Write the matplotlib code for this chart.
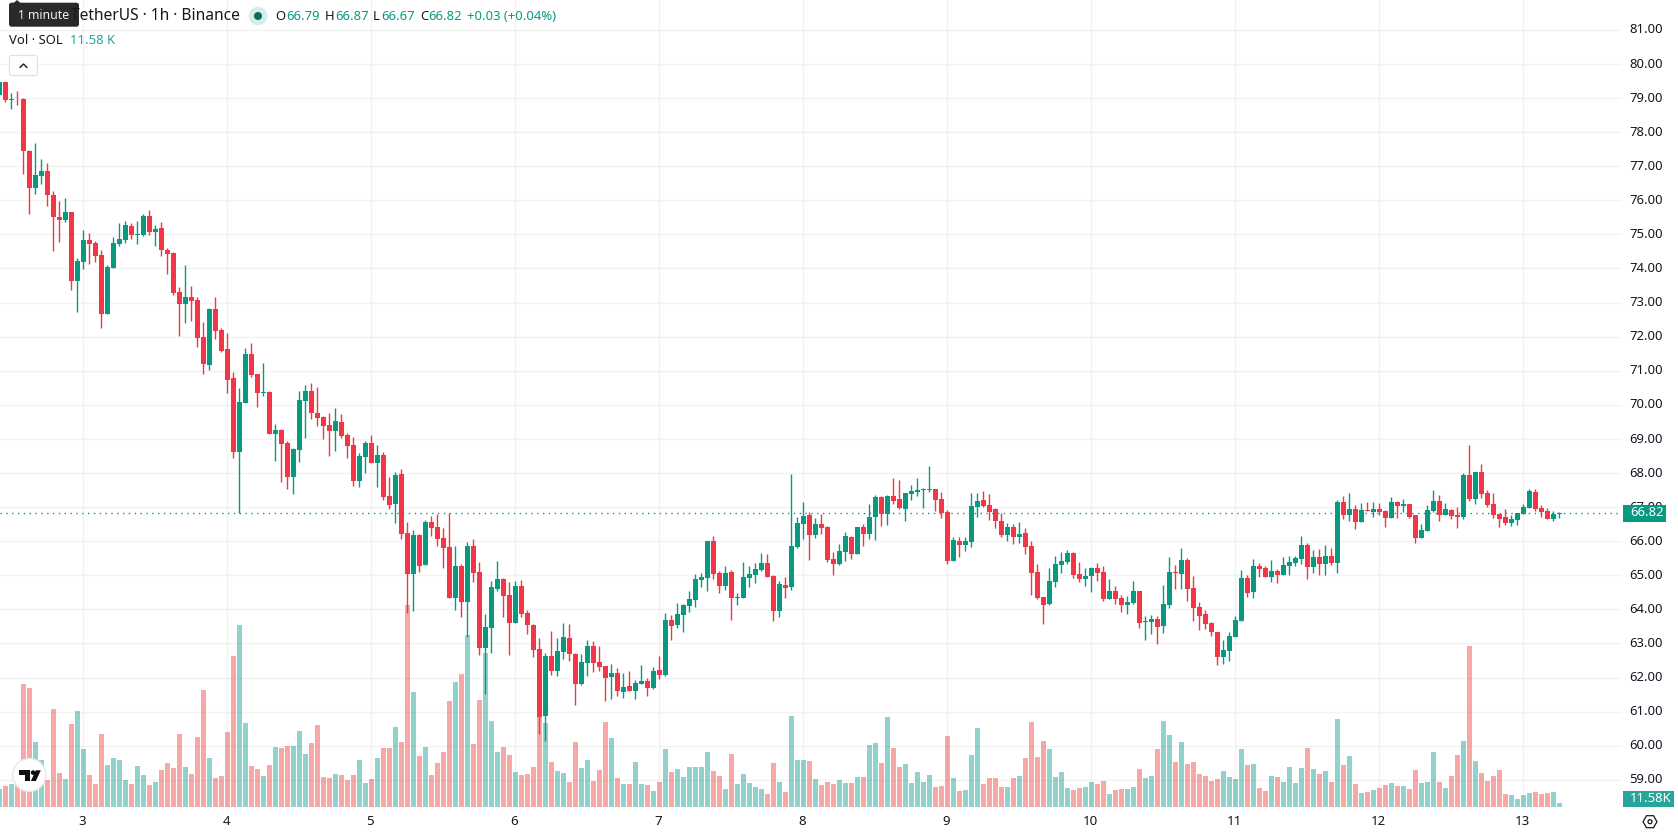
import numpy as np
import matplotlib
matplotlib.use('Agg')
import matplotlib.pyplot as plt
from matplotlib.patches import Rectangle, FancyBboxPatch, Circle, Polygon
from matplotlib.transforms import ScaledTranslation

plt.rcParams['font.family'] = ['Noto Sans', 'DejaVu Sans']

# hourly SOL/USDT candles, first one is 14 hours before the day "3" tick
first_hour = -14
opens = [79.10, 79.46, 78.93, 78.98, 78.96, 77.46, 76.36, 76.71, 76.85, 76.17, 75.52, 75.41, 75.65, 73.64,
         74.20, 74.83, 74.74, 74.39, 72.67, 74.02, 74.73, 74.84, 75.24, 74.98, 74.98, 75.54, 75.07, 75.19,
         74.54, 74.45, 73.31, 72.96, 73.16, 73.07, 71.99, 71.17, 72.81, 72.19,
         71.63, 70.78, 68.61, 70.05, 71.48, 70.90, 70.34, 70.37, 69.14, 69.26, 68.88, 67.88, 68.67, 70.11,
         70.40, 69.76, 69.64, 69.40, 69.23, 69.49, 69.11, 68.82, 67.77, 68.47,
         68.88, 68.29, 68.53, 67.33, 67.09, 67.97, 66.25, 65.05, 66.19, 65.31, 66.57, 66.42, 66.10, 65.84,
         64.32, 65.28, 64.23, 65.87, 65.11, 62.88, 63.44, 64.61, 64.90, 64.43, 63.61, 64.70, 63.88, 63.53,
         62.85, 60.87, 62.63, 62.19, 62.75, 63.16, 62.69, 61.81, 62.42, 62.92, 62.45, 62.34, 62.01, 62.13,
         61.58, 61.75, 61.60, 61.81, 61.90, 61.69,
         62.22, 62.07, 63.69, 63.54, 63.83, 64.10, 64.27, 64.86, 64.92, 66.00, 65.06, 64.68, 65.09, 64.33,
         64.33, 64.92, 65.00, 65.15, 65.36, 64.98, 63.95, 64.71, 64.65, 65.82,
         66.50, 66.76, 66.18, 66.50, 66.41, 65.47, 65.33, 65.68, 66.12, 65.62, 66.41, 66.20, 66.70, 67.29,
         66.79, 67.32, 67.23, 66.94, 67.38, 67.43, 67.49, 67.49, 67.52, 67.23,
         66.85, 65.41, 66.02, 65.90, 65.99, 67.01, 67.22, 67.07, 66.93, 66.60, 66.17, 66.43, 66.11, 66.25,
         65.87, 65.11, 64.35, 64.15, 64.79, 65.29, 65.40, 65.64, 65.05, 64.88,
         64.97, 65.20, 65.11, 64.29, 64.53, 64.32, 64.12, 64.20, 64.53, 63.62, 63.62, 63.71, 63.50, 64.12,
         65.11, 65.05, 65.46, 64.64, 64.06, 63.85, 63.59, 63.33, 62.60, 62.77,
         63.18, 63.65, 64.92, 64.51, 65.27, 65.22, 64.95, 65.13, 65.01, 65.27, 65.36, 65.48, 65.89, 65.25,
         65.54, 65.33, 65.57, 65.36, 67.16, 66.77, 66.95, 66.57, 66.92, 66.86,
         66.95, 66.89, 66.69, 67.16, 67.04, 67.10, 66.77, 66.10, 66.30, 66.89, 67.19, 66.77, 66.92, 66.77,
         66.72, 67.95, 67.25, 68.04, 67.42, 67.10, 66.80, 66.72, 66.54, 66.63,
         66.80, 66.98, 67.45, 66.98, 66.89, 66.66, 66.79]
highs = [79.46, 79.48, 79.16, 79.22, 79.01, 77.49, 77.67, 77.20, 77.08, 76.28, 75.97, 76.08, 75.67, 74.30,
         75.13, 75.04, 74.80, 74.54, 74.10, 74.92, 75.33, 75.39, 75.33, 75.39, 75.60, 75.71, 75.27, 75.36,
         74.60, 74.48, 73.46, 74.10, 73.48, 73.16, 72.43, 72.84, 73.16, 72.25,
         72.10, 70.96, 70.49, 71.66, 71.80, 70.90, 71.22, 70.40, 69.43, 69.29, 68.94, 68.73, 70.40, 70.58,
         70.64, 70.52, 69.67, 69.76, 69.90, 69.73, 69.17, 69.05, 68.59, 68.94,
         69.11, 68.82, 68.61, 67.88, 68.03, 68.12, 66.57, 66.34, 66.22, 66.63, 66.75, 66.80, 66.40, 66.82,
         65.87, 65.34, 65.99, 66.07, 65.40, 63.85, 64.84, 65.43, 64.93, 64.81, 64.84, 64.87, 63.97, 63.56,
         63.15, 62.72, 63.36, 63.16, 63.60, 63.57, 62.72, 62.69, 63.10, 63.07, 62.92, 62.34, 62.39, 62.28,
         62.13, 62.19, 61.93, 62.37, 61.99, 62.31,
         62.63, 63.88, 63.83, 64.19, 64.16, 64.54, 65.03, 65.06, 66.00, 66.15, 65.12, 65.27, 65.15, 64.48,
         65.39, 65.27, 65.36, 65.65, 65.62, 65.00, 64.83, 64.95, 67.96, 66.70,
         67.14, 66.85, 66.67, 66.79, 66.44, 65.68, 65.91, 66.26, 66.15, 66.41, 66.50, 67.08, 67.35, 67.32,
         67.35, 67.84, 67.79, 67.40, 67.64, 67.84, 67.55, 68.20, 67.52, 67.43,
         66.91, 66.12, 66.11, 66.11, 67.42, 67.40, 67.48, 67.37, 66.96, 66.84, 66.52, 66.49, 66.55, 66.40,
         66.02, 65.32, 64.35, 65.20, 65.58, 65.67, 65.73, 65.67, 65.38, 65.20,
         65.23, 65.35, 65.26, 64.88, 64.68, 64.41, 64.38, 64.82, 64.53, 63.80, 63.83, 63.80, 64.71, 65.55,
         65.29, 65.79, 65.52, 64.99, 64.23, 63.97, 63.62, 63.33, 63.09, 63.33,
         63.80, 65.16, 65.01, 65.48, 65.36, 65.27, 65.45, 65.19, 65.54, 65.57, 65.57, 66.16, 65.95, 65.75,
         65.77, 65.89, 65.80, 67.22, 67.33, 67.42, 67.07, 67.13, 67.16, 67.16,
         67.13, 66.92, 67.30, 67.19, 67.25, 67.10, 66.77, 66.51, 67.07, 67.51, 67.36, 67.13, 66.95, 67.01,
         68.01, 68.83, 68.04, 68.25, 67.51, 67.42, 66.80, 66.95, 66.77, 66.83,
         67.10, 67.54, 67.54, 67.07, 66.98, 66.89, 66.87]
lows = [79.05, 78.88, 78.67, 78.81, 76.76, 75.59, 76.18, 76.49, 75.83, 74.50, 74.77, 75.36, 73.38, 72.73,
        73.99, 74.14, 74.20, 72.26, 72.67, 74.02, 74.67, 74.75, 74.87, 74.73, 74.95, 74.98, 74.66, 74.36,
        73.84, 73.23, 72.02, 72.40, 72.46, 71.69, 70.90, 71.02, 71.93, 71.55,
        70.34, 68.44, 66.82, 70.05, 70.81, 69.93, 70.25, 69.14, 68.35, 67.74, 67.53, 67.39, 68.32, 69.02,
        69.58, 69.38, 69.00, 68.50, 68.64, 69.02, 68.44, 67.62, 67.59, 68.00,
        68.29, 67.59, 67.21, 66.95, 66.54, 66.07, 63.88, 63.94, 65.11, 65.31, 66.16, 65.87, 65.22, 64.32,
        63.97, 63.79, 63.20, 64.81, 62.65, 61.51, 62.71, 64.55, 63.79, 62.65, 63.61, 63.79, 63.29, 62.59,
        60.35, 60.14, 62.07, 62.04, 62.54, 62.48, 61.20, 61.78, 62.04, 62.16, 62.19, 61.31, 61.37, 61.46,
        61.40, 61.60, 61.37, 61.81, 61.46, 61.66,
        61.96, 62.04, 63.10, 63.45, 63.34, 63.92, 64.07, 64.65, 64.54, 64.89, 64.48, 64.57, 63.68, 64.13,
        64.33, 64.65, 64.77, 65.12, 64.95, 63.66, 63.78, 64.33, 64.57, 65.80,
        66.06, 65.44, 66.09, 66.20, 65.39, 65.00, 65.30, 65.41, 65.47, 65.62, 65.85, 66.06, 66.03, 66.44,
        66.47, 67.08, 66.94, 66.59, 67.20, 67.32, 66.97, 67.43, 66.88, 66.67,
        65.33, 65.41, 65.55, 65.70, 65.84, 66.72, 66.99, 66.63, 66.40, 66.11, 66.02, 65.93, 65.96, 65.61,
        64.41, 64.29, 63.56, 64.12, 64.67, 65.08, 65.32, 64.91, 64.79, 64.70,
        64.50, 64.82, 64.26, 64.29, 64.15, 63.93, 63.85, 64.15, 63.44, 63.09, 63.29, 62.98, 63.32, 64.03,
        64.61, 64.59, 64.26, 63.65, 63.39, 63.41, 63.21, 62.36, 62.39, 62.48,
        63.18, 63.65, 64.36, 64.33, 64.95, 64.95, 64.80, 64.77, 65.01, 65.01, 65.27, 65.33, 64.89, 65.07,
        65.01, 65.01, 65.30, 65.07, 66.66, 66.60, 66.36, 66.57, 66.89, 66.72,
        66.77, 66.42, 66.69, 66.69, 66.86, 66.69, 65.95, 66.10, 66.30, 66.86, 66.60, 66.77, 66.66, 66.39,
        66.66, 67.19, 67.10, 67.27, 67.01, 66.69, 66.42, 66.48, 66.45, 66.48,
        66.80, 66.98, 66.89, 66.72, 66.66, 66.60, 66.67]
closes = [79.46, 78.93, 78.98, 78.96, 77.44, 76.36, 76.73, 76.85, 76.15, 75.50, 75.41, 75.67, 73.64, 74.22,
          74.83, 74.72, 74.37, 72.67, 74.04, 74.74, 74.86, 75.27, 74.99, 75.00, 75.54, 75.07, 75.17, 74.54,
          74.42, 73.27, 72.96, 73.16, 73.04, 71.96, 71.20, 72.81, 72.16, 71.58,
          70.72, 68.61, 70.08, 71.48, 70.87, 70.34, 70.37, 69.14, 69.26, 68.85, 67.88, 68.70, 70.14, 70.40,
          69.76, 69.61, 69.38, 69.23, 69.52, 69.08, 68.79, 67.77, 68.50, 68.88,
          68.29, 68.53, 67.30, 67.06, 67.94, 66.21, 65.05, 66.19, 65.28, 66.57, 66.40, 66.07, 65.81, 64.32,
          65.28, 64.23, 65.87, 65.08, 62.88, 63.47, 64.67, 64.90, 64.40, 63.61, 64.70, 63.85, 63.53, 62.82,
          60.84, 62.63, 62.19, 62.78, 63.19, 62.69, 61.81, 62.45, 62.92, 62.42, 62.31, 61.99, 62.13, 61.60,
          61.72, 61.60, 61.84, 61.90, 61.69, 62.19,
          62.07, 63.69, 63.51, 63.86, 64.13, 64.30, 64.89, 64.95, 66.00, 65.03, 64.68, 65.06, 64.33, 64.36,
          64.95, 65.03, 65.18, 65.36, 64.95, 63.95, 64.74, 64.62, 65.85, 66.53,
          66.73, 66.18, 66.50, 66.38, 65.44, 65.33, 65.71, 66.15, 65.62, 66.41, 66.20, 66.70, 67.29, 66.79,
          67.32, 67.17, 66.97, 67.40, 67.46, 67.49, 67.52, 67.52, 67.20, 66.82,
          65.41, 66.03, 65.90, 66.02, 67.04, 67.19, 67.04, 66.87, 66.58, 66.17, 66.43, 66.11, 66.22, 65.84,
          65.08, 64.32, 64.12, 64.82, 65.32, 65.43, 65.64, 65.02, 64.88, 64.97,
          65.20, 65.08, 64.29, 64.53, 64.29, 64.12, 64.23, 64.53, 63.59, 63.65, 63.71, 63.48, 64.15, 65.11,
          65.08, 65.46, 64.61, 64.03, 63.82, 63.56, 63.33, 62.60, 62.80, 63.21,
          63.68, 64.91, 64.49, 65.27, 65.19, 64.95, 65.13, 65.01, 65.30, 65.39, 65.51, 65.89, 65.25, 65.54,
          65.33, 65.57, 65.36, 67.16, 66.77, 66.95, 66.57, 66.92, 66.89, 66.95,
          66.86, 66.69, 67.16, 67.04, 67.10, 66.72, 66.10, 66.33, 66.92, 67.19, 66.77, 66.95, 66.75, 66.72,
          67.95, 67.25, 68.04, 67.39, 67.07, 66.77, 66.66, 66.54, 66.66, 66.83,
          67.01, 67.48, 66.95, 66.86, 66.66, 66.81, 66.82]
# volume in thousands of SOL
volumes = [55.8, 65.3, 71.6, 68.4, 387.4, 374.8, 204.2, 147.4, 84.2, 308.4, 106.3, 87.4, 261.1, 302.1,
           182.1, 100, 71.6, 229.5, 131.6, 153.7, 147.4, 84.2, 71.6, 128.4, 100, 68.4, 77.9, 115.8,
           137.9, 122.1, 229.5, 125.3, 103.2, 220, 368.4, 153.7, 90.5, 96.8,
           235.8, 475.8, 573.7, 264.2, 128.4, 119, 96.8, 131.6, 188.4, 185.3, 191.6, 191.6, 239, 166.3,
           201.1, 257.9, 93.7, 90.5, 103.2, 100, 84.2, 100, 147.4, 74.7,
           87.4, 153.7, 185.3, 185.3, 251.6, 204.2, 636.9, 362.1, 160, 188.4, 100, 137.9, 172.6, 333.7,
           393.7, 419, 542.1, 197.9, 336.9, 485.3, 270.5, 172.6, 188.4, 163.2, 109.5, 100, 103.2, 125.3,
           286.3, 264.2, 141.1, 112.6, 106.3, 77.9, 204.2, 122.1, 147.4, 81.1, 115.8, 267.4, 216.9, 90.5,
           71.6, 71.6, 141.1, 71.6, 68.4, 49.5,
           77.9, 182.1, 109.5, 119, 93.7, 125.3, 125.3, 125.3, 172.6, 112.6, 96.8, 55.8, 166.3, 71.6,
           103.2, 74.7, 62.1, 55.8, 40, 137.9, 77.9, 46.3, 286.3, 147.4,
           147.4, 144.2, 87.4, 68.4, 77.9, 71.6, 84.2, 75.8, 75.8, 94.7, 94.7, 195.8, 202.1, 139,
           284.2, 186.3, 126.3, 135.8, 75.8, 110.5, 79, 101.1, 63.2, 66.3,
           224.2, 91.6, 50.5, 53.7, 164.2, 249.5, 72.6, 91.6, 91.6, 63.2, 63.2, 91.6, 97.9, 154.7,
           268.4, 157.9, 208.4, 183.2, 94.7, 110.5, 60, 53.7, 60, 63.2,
           79, 72.6, 82.1, 41.1, 53.7, 56.8, 56.8, 63.2, 120, 91.6, 97.9, 183.2, 271.6, 227.4,
           142.1, 205.3, 135.8, 142.1, 104.2, 97.9, 82.1, 88.4, 113.7, 94.7,
           88.4, 183.2, 132.6, 135.8, 59, 49.5, 96.8, 93.7, 77.9, 125.3, 74.7, 122.1, 185.3, 119,
           103.2, 112.6, 77.9, 276.9, 131.6, 160, 71.6, 43.2, 46.3, 52.6,
           59, 68.4, 74.7, 65.3, 65.3, 55.8, 115.8, 74.7, 77.9, 172.6, 77.9, 59, 96.8, 163.2,
           207.4, 507.4, 144.2, 106.3, 81.1, 96.8, 115.8, 40, 36.8, 24.2,
           36.8, 43.2, 46.3, 40, 43.2, 46.3, 11.58]

price_ticks = np.arange(59, 82)
day_labels = [3, 4, 5, 6, 7, 8, 9, 10, 11, 12, 13]
bold_day = 8
last_price = closes[-1]

UP = '#089981'
DOWN = '#F23645'
VOL_UP = '#26A69A'
VOL_DOWN = '#EF5350'
TEXT = '#131722'

W, H = 1678, 835
PANE_W, PANE_H = 1622, 808
HOUR_PX = 6.0
HOUR0_X = 83.3
UNIT_PX = 34.09
P76_Y = 200.3
VOL_BASE_Y = 806.7
VOL_K_PX = 0.3167

hours = first_hour + np.arange(len(closes))
o = np.array(opens)
c = np.array(closes)
rising = c >= o

fig = plt.figure(figsize=(W / 100, H / 100), dpi=100, facecolor='white')
rect = [0, 1 - PANE_H / H, PANE_W / W, PANE_H / H]

# volume sits on its own scale behind the candles
axv = fig.add_axes(rect)
axv.set_xlim(-HOUR0_X / HOUR_PX, (PANE_W - HOUR0_X) / HOUR_PX)
axv.set_ylim(-(PANE_H - VOL_BASE_Y) / VOL_K_PX, VOL_BASE_Y / VOL_K_PX)
axv.axis('off')
axv.bar(hours, volumes, width=0.82, linewidth=0,
        color=[VOL_UP if r else VOL_DOWN for r in rising], alpha=0.5, zorder=2)

ax = fig.add_axes(rect)
ax.patch.set_visible(False)
ax.set_xlim(axv.get_xlim())
ax.set_ylim(76 - (PANE_H - P76_Y) / UNIT_PX, 76 + P76_Y / UNIT_PX)
for s in ax.spines.values():
    s.set_visible(False)

ax.yaxis.tick_right()
ax.set_yticks(price_ticks)
ax.set_yticklabels(['%.2f' % p for p in price_ticks])
ax.set_xticks([(d - day_labels[0]) * 24 for d in day_labels])
ax.set_xticklabels([str(d) for d in day_labels])
ax.tick_params(axis='y', length=0, pad=5.2, labelsize=9.4, labelcolor=TEXT)
ax.tick_params(axis='x', length=0, pad=5.3, labelsize=9.6, labelcolor=TEXT)
for lab, d in zip(ax.get_xticklabels(), day_labels):
    lab.set_transform(lab.get_transform() + ScaledTranslation(-0.6 / 72, 0, fig.dpi_scale_trans))
    if d == bold_day:
        lab.set_fontweight('bold')
# nudge the price labels up so they sit centred on their grid lines
for lab in ax.get_yticklabels():
    lab.set_transform(lab.get_transform() + ScaledTranslation(0, 1.0 / 72, fig.dpi_scale_trans))
ax.grid(True, color='#2E2E2E', alpha=0.055, linewidth=1.0)
ax.set_axisbelow(True)

ax.axhline(last_price, color=UP, linewidth=1.0, linestyle=(0, (1, 3.2)), zorder=1.5)

colors = [UP if r else DOWN for r in rising]
ax.vlines(hours, lows, highs, colors=colors, linewidth=1.0, zorder=3)
ax.bar(hours, np.abs(c - o), bottom=np.minimum(c, o), width=0.82, color=colors, linewidth=0, zorder=4)

# header, tooltip, axis badges: everything below is placed in screen pixels
ui = fig.add_axes([0, 0, 1, 1], zorder=10)
ui.set_xlim(0, W)
ui.set_ylim(H, 0)
ui.axis('off')
ui.patch.set_visible(False)

ui.text(240, 15.5, 'TetherUS · 1h · Binance', fontsize=11.2, color=TEXT, ha='right', va='center')
ui.add_patch(Circle((258, 16), 9.3, facecolor='#D5EEE9', edgecolor='none'))
ui.add_patch(Circle((258, 16), 4, facecolor='#0B6B5B', edgecolor='none'))

legend_labels = ['O', 'H', 'L', 'C']
legend_label_x = [275, 325, 373, 420]
legend_values = ['66.79', '66.87', '66.67', '66.82']
legend_value_x = [286.5, 335, 381.5, 428.5]
for t, x in zip(legend_labels, legend_label_x):
    ui.text(x, 16, t, fontsize=9.4, color=TEXT, va='center')
for t, x in zip(legend_values, legend_value_x):
    ui.text(x, 16, t, fontsize=9.4, color=UP, va='center')
ui.text(467, 16, '+0.03 (+0.04%)', fontsize=9.4, color=UP, va='center')

ui.text(9, 40, 'Vol · SOL', fontsize=9.4, color=TEXT, va='center')
ui.text(70, 40, '11.58 K', fontsize=9.4, color=VOL_UP, va='center')

ui.add_patch(FancyBboxPatch((9.5, 55.5), 28, 20, boxstyle='round,pad=0,rounding_size=2.5',
                            facecolor='white', edgecolor='#DFE2E8', linewidth=0.9))
ui.plot([20, 23.5, 27], [67.5, 64, 67.5], color=TEXT, linewidth=1.0, solid_capstyle='round')

# "1 minute" hint over the symbol name
ui.add_patch(Polygon([(13, 3.5), (17, 0), (21, 3.5)], facecolor='#2A2A2A', edgecolor='none'))
ui.add_patch(FancyBboxPatch((9, 2.7), 70, 24, boxstyle='round,pad=0,rounding_size=2.5',
                            facecolor='#2A2A2A', edgecolor='none'))
ui.text(18, 15.3, '1 minute', fontsize=8.8, color='#F2F2F2', va='center')

# last price and last volume badges
last_y = H - ax.transData.transform((0, last_price))[1]
ui.add_patch(Rectangle((1623, last_y - 8.4), 43, 16.8, facecolor=UP, edgecolor='none'))
ui.text(1630.3, last_y - 0.4, '%.2f' % last_price, fontsize=9.4, color='white', va='center')
ui.add_patch(Rectangle((1623, 791), 51, 15.8, facecolor=VOL_UP, edgecolor='none'))
ui.text(1630.3, 798.6, '11.58K', fontsize=9.4, color='white', va='center')

# settings icon on the axis corner
ui.add_patch(Polygon([(1643, 821.7), (1646.5, 815.7), (1653.5, 815.7), (1657, 821.7), (1653.5, 827.7), (1646.5, 827.7)],
                     facecolor='none', edgecolor=TEXT, linewidth=0.9))
ui.add_patch(Circle((1650, 821.7), 2.0, facecolor='none', edgecolor=TEXT, linewidth=0.9))

# TradingView badge
ui.add_patch(Circle((29.3, 775), 16.5, facecolor='white', edgecolor='#E6E7EA', linewidth=1.0))
ui.add_patch(Polygon([(19.3, 770.3), (30.2, 770.3), (30.2, 781), (24.5, 781), (24.5, 775), (19.3, 775)],
                     facecolor='#0F0F0F', edgecolor='none'))
ui.add_patch(Circle((33, 772.6), 2.3, facecolor='#0F0F0F', edgecolor='none'))
ui.add_patch(Polygon([(35.8, 770.3), (40.8, 770.3), (35.9, 781), (30.9, 781)], facecolor='#0F0F0F', edgecolor='none'))

fig.savefig('out.png', dpi=100)
